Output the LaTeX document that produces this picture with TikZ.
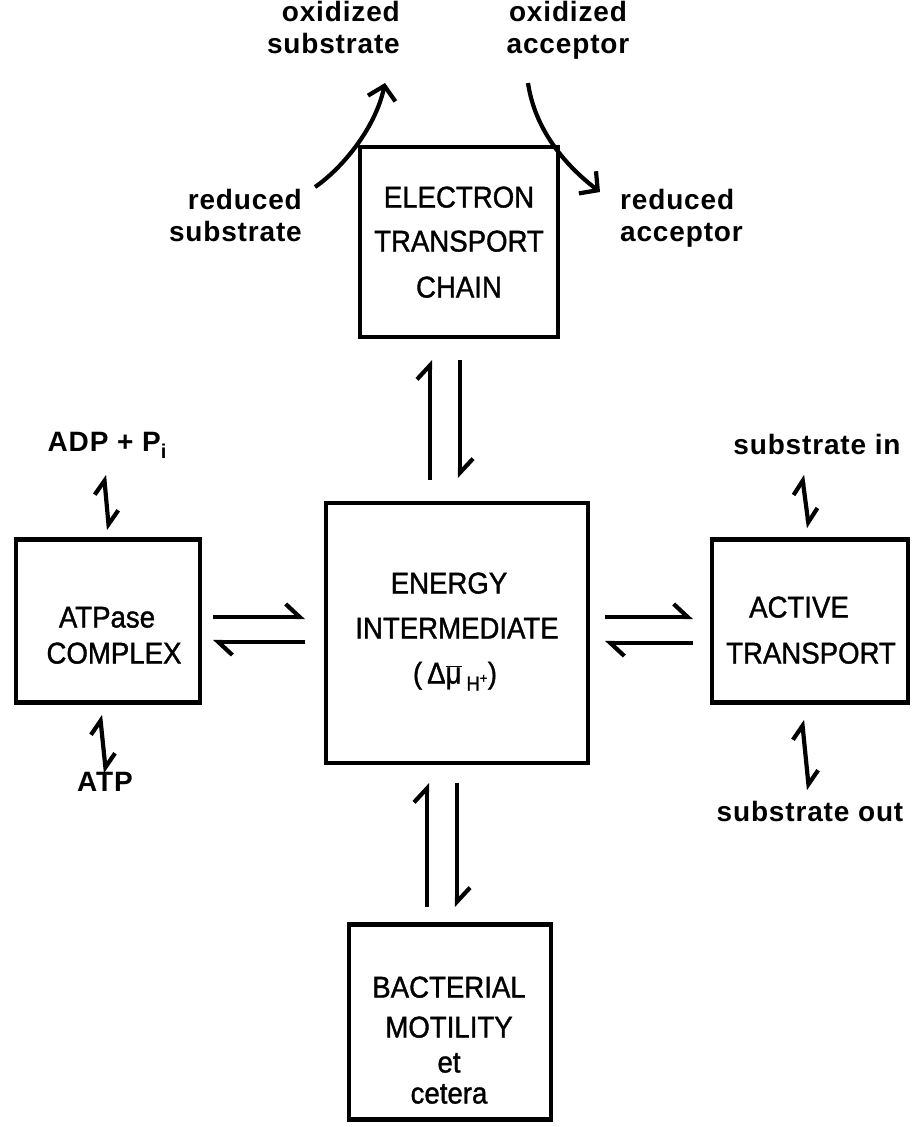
\documentclass[tikz,border=0pt]{standalone}
\usepackage{fontspec}
\setmainfont{Liberation Sans}
\newfontfamily\boxfont[FakeStretch=0.92,FakeBold=1.2]{Liberation Sans}
\newfontfamily\labfont[LetterSpace=3]{Liberation Sans}
\usetikzlibrary{arrows.meta}
\begin{document}
\begin{tikzpicture}[x=1pt,y=-1pt,
 box/.style={draw, line width=4.5pt, inner sep=0pt},
 btxt/.style={font=\boxfont\fontsize{30}{32}\selectfont, inner sep=0pt, text height=21pt, text depth=0pt},
 lab/.style={font=\labfont\bfseries\fontsize{28}{30}\selectfont, inner sep=0pt, anchor=mid},
 harp/.style={line width=4.2pt, -{Straight Barb[left,length=14pt,width=26pt]}},
 dharp/.style={line width=4.2pt, {Straight Barb[left,length=13pt,width=22pt]}-{Straight Barb[left,length=13pt,width=22pt]}},
 curv/.style={line width=4.2pt, -{Straight Barb[length=13pt,width=28pt]}},
]
\useasboundingbox (0,0) rectangle (911,1127);
% boxes
\node[box, minimum width=198pt, minimum height=190pt] (etc) at (459,242) {};
\node[box, minimum width=262pt, minimum height=260pt] (ei) at (457,633) {};
\node[box, minimum width=184pt, minimum height=163pt] (atp) at (108,621) {};
\node[box, minimum width=196pt, minimum height=163pt] (at) at (810,621) {};
\node[box, minimum width=202pt, minimum height=195pt] (bm) at (450,1022) {};
% box texts
\node[btxt] (t1) at (459,197) {ELECTRON};
\node[btxt] (t2) at (459,241) {TRANSPORT};
\node[btxt] (t3) at (459,287) {CHAIN};
\node[btxt] (t4) at (449,583) {ENERGY};
\node[btxt] (t5) at (457,628) {INTERMEDIATE};
\node[btxt] (t6) at (455,673) {(\,Δ$\overline{\hbox{\boxfont\fontsize{30}{32}\selectfont μ}}$\,\raisebox{-7pt}{\fontsize{20}{22}\selectfont H\textsuperscript{+}})};
\node[btxt] (t7) at (107,617) {ATPase};
\node[btxt] (t8) at (114,653) {COMPLEX};
\node[btxt] (t9) at (799,607) {ACTIVE};
\node[btxt] (t10) at (811,653) {TRANSPORT};
\node[btxt] (t11) at (449,987) {BACTERIAL};
\node[btxt] (t12) at (449,1027) {MOTILITY};
\node[btxt] (t13) at (449,1062) {et};
\node[btxt] (t14) at (449,1093) {cetera};
% labels
\node[lab, anchor=mid east] (l1) at (400,19) {oxidized};
\node[lab, anchor=mid east] (l2) at (400,51) {substrate};
\node[lab] (l3) at (568,19) {oxidized};
\node[lab] (l4) at (568,51) {acceptor};
\node[lab, anchor=mid east] (l5) at (302,207) {reduced};
\node[lab, anchor=mid east] (l6) at (302,239) {substrate};
\node[lab, anchor=mid west] (l7) at (620,207) {reduced};
\node[lab, anchor=mid west] (l8) at (620,239) {acceptor};
\node[lab] (l9) at (107,449) {ADP + P\raisebox{-7pt}{\fontsize{20}{22}\selectfont i}};
\node[lab] (l10) at (105,789) {ATP};
\node[lab] (l11) at (817,452) {substrate in};
\node[lab] (l12) at (810,819) {substrate out};
% curved arrows
\coordinate (rs) at (315,187);
\coordinate (os) at (385,83);
\coordinate (oa) at (528,83);
\coordinate (ra) at (600,192);
\draw[curv] (rs) .. controls (340,170) and (375,130) .. (os);
\draw[curv] (oa) .. controls (535,130) and (565,165) .. (ra);
% vertical harpoons
\coordinate (u1a) at (430,480); \coordinate (u1b) at (430,360);
\coordinate (d1a) at (460,360); \coordinate (d1b) at (460,478);
\draw[harp] (u1a) -- (u1b);
\draw[harp] (d1a) -- (d1b);
\coordinate (u2a) at (427,907); \coordinate (u2b) at (427,783);
\coordinate (d2a) at (457,783); \coordinate (d2b) at (457,907);
\draw[harp] (u2a) -- (u2b);
\draw[harp] (d2a) -- (d2b);
% horizontal harpoons
\coordinate (h1a) at (213,617); \coordinate (h1b) at (305,617);
\coordinate (h2a) at (305,642); \coordinate (h2b) at (213,642);
\draw[harp] (h1a) -- (h1b);
\draw[harp] (h2a) -- (h2b);
\coordinate (h3a) at (605,617); \coordinate (h3b) at (693,617);
\coordinate (h4a) at (693,643); \coordinate (h4b) at (605,643);
\draw[harp] (h3a) -- (h3b);
\draw[harp] (h4a) -- (h4b);
% small double harpoons
\coordinate (s1a) at (104,475); \coordinate (s1b) at (109,530);
\coordinate (s2a) at (100,715); \coordinate (s2b) at (106,773);
\coordinate (s3a) at (802,475); \coordinate (s3b) at (809,528);
\coordinate (s4a) at (802,720); \coordinate (s4b) at (809,790);
\draw[dharp] (s1a) -- (s1b);
\draw[dharp] (s2a) -- (s2b);
\draw[dharp] (s3a) -- (s3b);
\draw[dharp] (s4a) -- (s4b);
\end{tikzpicture}
\end{document}
